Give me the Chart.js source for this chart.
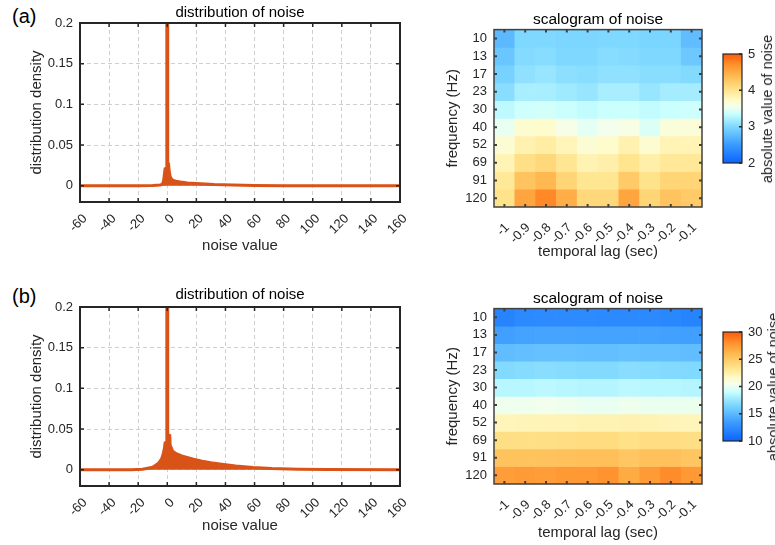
<!DOCTYPE html>
<html lang="en">
<head>
<meta charset="UTF-8">
<title>distribution and scalogram of noise</title>
<script src="https://cdn.jsdelivr.net/npm/chart.js@4"></script>
<style>
    body {
        margin: 0;
        background: #ffffff;
        width: 775px;
        height: 545px;
        position: relative;
        overflow: hidden;
        font-family: 'Liberation Sans', Arial, sans-serif;
    }
    canvas, .tag, .cblabel {
        position: absolute;
    }
    .tag {
        left: 12px;
        font-size: 20px;
        line-height: 20px;
        color: #000000;
    }
    .cblabel {
        font-size: 14.5px;
        color: #262626;
        white-space: nowrap;
        transform: translate(-50%, -50%) rotate(-90deg);
    }
</style>
</head>
<body>
<div class="tag" style="top:6px">(a)</div>
<div class="tag" style="top:286px">(b)</div>

<canvas id="histA" width="415" height="270" style="left:0;top:0"></canvas>
<canvas id="heatA" width="295" height="270" style="left:420px;top:0"></canvas>
<canvas id="cbarA" width="60" height="140" style="left:715px;top:40px"></canvas>
<div class="cblabel" style="left:767px;top:109px">absolute value of noise</div>

<canvas id="histB" width="415" height="270" style="left:0;top:284px"></canvas>
<canvas id="heatB" width="295" height="270" style="left:420px;top:279px"></canvas>
<canvas id="cbarB" width="60" height="140" style="left:715px;top:318px"></canvas>
<div class="cblabel" style="left:773px;top:387px">absolute value of noise</div>

<script>
// ---- data ----
const noiseXA   = [-60, -20, -10, -5, -3.4, -2.5, -1.5, -0.3, -0.3, 0.3, 0.3, 0.9, 1.3, 2, 3, 4, 6, 9, 14, 20, 32, 45, 60, 80, 160];
const densityA  = [0, 0, 0.0003, 0.0008, 0.0015, 0.0065, 0.021, 0.022, 0.40, 0.40, 0.028, 0.027, 0.018, 0.011, 0.008, 0.0065, 0.0055, 0.0045, 0.0035, 0.0027, 0.0015, 0.0008, 0.0004, 0.0001, 0];

const noiseXB   = [-60, -25, -17, -10, -6, -4, -3, -2, -1.5, -0.3, -0.3, 0.3, 0.3, 1.7, 2, 3, 3.6, 5, 7, 10, 13, 18, 24, 30, 36, 47, 59, 72, 90, 110, 160];
const densityB  = [0, 0, 0.0005, 0.003, 0.008, 0.013, 0.018, 0.026, 0.033, 0.034, 0.40, 0.40, 0.043, 0.042, 0.03, 0.026, 0.023, 0.021, 0.019, 0.017, 0.0155, 0.013, 0.0105, 0.0085, 0.007, 0.0045, 0.0027, 0.0015, 0.0007, 0.0002, 0];

const densityTicks = [0, 0.05, 0.1, 0.15, 0.2];

const lagLabels  = ['-1', '-0.9', '-0.8', '-0.7', '-0.6', '-0.5', '-0.4', '-0.3', '-0.2', '-0.1'];
const freqLabels = ['10', '13', '17', '23', '30', '40', '52', '69', '91', '120'];

// scalogram (a), rows = frequency (10 Hz first), columns = lag
const scaloA = [
    [2.75, 3.00, 3.00, 2.98, 2.98, 3.00, 3.00, 2.97, 2.97, 2.78],
    [2.85, 3.03, 3.04, 3.00, 3.00, 3.04, 3.03, 3.00, 3.00, 2.87],
    [2.95, 3.08, 3.12, 3.06, 3.05, 3.08, 3.08, 3.05, 3.05, 3.02],
    [3.05, 3.20, 3.20, 3.16, 3.12, 3.20, 3.20, 3.12, 3.18, 3.18],
    [3.30, 3.38, 3.40, 3.36, 3.32, 3.36, 3.36, 3.32, 3.36, 3.38],
    [3.50, 3.70, 3.72, 3.58, 3.48, 3.55, 3.60, 3.44, 3.65, 3.66],
    [3.68, 3.85, 3.90, 3.80, 3.68, 3.72, 3.85, 3.70, 3.82, 3.82],
    [3.82, 4.05, 4.12, 3.98, 3.83, 3.87, 4.00, 3.88, 3.95, 3.95],
    [3.95, 4.30, 4.40, 4.15, 3.98, 3.98, 4.25, 4.02, 4.15, 4.15],
    [4.02, 4.55, 4.75, 4.48, 4.12, 4.12, 4.55, 4.15, 4.30, 4.25]
];

// scalogram (b)
const scaloB = [
    [12.0, 12.3, 12.4, 12.4, 12.4, 12.3, 12.3, 12.3, 12.2, 12.0],
    [13.6, 13.8, 13.9, 13.9, 13.8, 13.8, 13.8, 13.8, 13.7, 13.6],
    [15.2, 15.3, 15.4, 15.4, 15.3, 15.3, 15.4, 15.3, 15.3, 15.2],
    [16.8, 16.9, 17.0, 16.9, 16.8, 16.8, 17.0, 16.9, 16.8, 16.7],
    [18.5, 18.5, 18.6, 18.5, 18.4, 18.4, 18.6, 18.5, 18.5, 18.4],
    [20.2, 20.2, 20.3, 20.2, 20.0, 20.0, 20.2, 20.1, 20.1, 20.1],
    [22.0, 22.1, 22.1, 22.1, 22.2, 22.2, 22.3, 22.2, 22.1, 22.0],
    [23.7, 23.7, 23.7, 23.8, 23.9, 23.9, 23.6, 23.8, 23.8, 23.7],
    [25.4, 25.4, 25.4, 25.5, 25.6, 25.6, 25.2, 25.5, 25.5, 25.3],
    [27.4, 27.5, 27.4, 27.6, 27.6, 27.9, 26.7, 27.5, 28.2, 27.6]
];

const rangeA = [2, 5];
const rangeB = [10, 30];

// blue -> white -> orange colormap
const cmapStops = [
    [0.00, [10, 100, 255]],
    [0.17, [60, 155, 255]],
    [0.33, [125, 215, 255]],
    [0.45, [200, 255, 255]],
    [0.52, [245, 255, 235]],
    [0.58, [255, 250, 200]],
    [0.67, [255, 228, 140]],
    [0.80, [255, 185, 80]],
    [0.90, [255, 145, 45]],
    [1.00, [255, 90, 10]]
];

const orange = '#d95319';

function cmap(t) {
    t = Math.max(0, Math.min(1, t));
    for (let i = 1; i < cmapStops.length; i++) {
        const [t1, c1] = cmapStops[i];
        if (t <= t1) {
            const [t0, c0] = cmapStops[i - 1];
            const f = (t - t0) / (t1 - t0);
            const c = c0.map((v, k) => Math.round(v + (c1[k] - v) * f));
            return 'rgb(' + c.join(',') + ')';
        }
    }
    return 'rgb(' + cmapStops[cmapStops.length - 1][1].join(',') + ')';
}

Chart.defaults.font.family = "'Liberation Sans', Arial, sans-serif";
Chart.defaults.font.size = 13;
Chart.defaults.color = '#262626';
Chart.defaults.animation = false;
Chart.defaults.responsive = false;
Chart.defaults.plugins.legend.display = false;
Chart.defaults.plugins.tooltip.enabled = false;

// box round the plot area with small inward ticks (matlab look)
const framePlugin = {
    id: 'frame',
    afterDatasetsDraw(chart, args, opts) {
        const ctx = chart.ctx;
        const a = chart.chartArea;
        const len = opts.tick || 4;
        ctx.save();
        ctx.strokeStyle = opts.color;
        ctx.lineWidth = opts.width;
        ctx.strokeRect(a.left, a.top, a.right - a.left, a.bottom - a.top);
        ctx.lineWidth = opts.tickWidth || 1.5;
        ctx.beginPath();
        const xs = chart.scales.x;
        const ys = chart.scales.y;
        if (opts.xTicks) {
            xs.ticks.forEach((t, i) => {
                const px = xs.getPixelForTick(i);
                ctx.moveTo(px, a.bottom); ctx.lineTo(px, a.bottom - len);
                ctx.moveTo(px, a.top); ctx.lineTo(px, a.top + len);
            });
        }
        ys.ticks.forEach((t, i) => {
            const py = ys.getPixelForTick(i);
            if (opts.left) { ctx.moveTo(a.left, py); ctx.lineTo(a.left + len, py); }
            ctx.moveTo(a.right, py); ctx.lineTo(a.right - len, py);
        });
        ctx.stroke();
        ctx.restore();
    }
};

function histConfig(xs, ys, p) {
    return {
        type: 'line',
        data: {
            datasets: [{
                data: xs.map((x, i) => ({x: x, y: ys[i]})),
                borderColor: orange,
                backgroundColor: orange,
                borderWidth: 3,
                pointRadius: 0,
                fill: 'origin'
            }]
        },
        options: {
            layout: {padding: {left: 0, right: 15, top: 0, bottom: 0}},
            plugins: {
                title: {display: true, fullSize: false, text: 'distribution of noise', color: '#000', font: {size: 15, weight: 'normal'}, padding: {top: p.titleTop, bottom: 5 - p.titleTop}},
                frame: {color: '#262626', width: 2, tick: 4, xTicks: true, left: true}
            },
            scales: {
                x: {
                    type: 'linear', min: -60, max: 160,
                    ticks: {stepSize: 20, minRotation: 45, maxRotation: 45, padding: 9, labelOffset: 5, autoSkip: false},
                    grid: {color: '#cfcfcf', drawTicks: false},
                    border: {display: false, dash: [4, 3]},
                    title: {display: true, text: 'noise value', font: {size: 15}, padding: {top: 0, bottom: p.xTitleBottom}},
                    afterFit(s) { s.height = 68; s.paddingLeft = 0; s.paddingRight = 0; }
                },
                y: {
                    min: -0.02, max: 0.2,
                    afterBuildTicks(s) { s.ticks = densityTicks.map(v => ({value: v})); },
                    ticks: {padding: 7, callback: v => String(+v.toFixed(3))},
                    grid: {color: '#cfcfcf', drawTicks: false},
                    border: {display: false, dash: [4, 3]},
                    title: {display: true, text: 'distribution density', font: {size: 15}, padding: {top: 27.5, bottom: 0}},
                    afterFit(s) { s.width = 80; s.paddingTop = 0; s.paddingBottom = 0; }
                }
            }
        },
        plugins: [framePlugin]
    };
}

function heatConfig(values, range, p) {
    return {
        type: 'bar',
        data: {
            labels: lagLabels,
            datasets: freqLabels.map((f, r) => ({
                label: f,
                data: lagLabels.map(() => 1),
                backgroundColor: values[r].map(v => cmap((v - range[0]) / (range[1] - range[0]))),
                borderWidth: 0,
                barPercentage: 1,
                categoryPercentage: 1
            }))
        },
        options: {
            layout: {padding: {right: 13}},
            plugins: {
                title: {display: true, fullSize: false, text: 'scalogram of noise', color: '#000', font: {size: 15.5, weight: 'normal'}, padding: {top: 10, bottom: 1}},
                frame: {color: '#404040', width: 1.5, tick: 3, tickWidth: 2, xTicks: true, left: true}
            },
            scales: {
                x: {
                    stacked: true,
                    grid: {display: false, drawTicks: false},
                    border: {display: false},
                    ticks: {minRotation: 45, maxRotation: 45, padding: 13, labelOffset: 3, autoSkip: false},
                    title: {display: true, text: 'temporal lag (sec)', font: {size: 15}, padding: {top: 0, bottom: p.xTitleBottom}},
                    afterFit(s) { s.height = p.xAxisH; s.paddingLeft = 0; s.paddingRight = 0; }
                },
                y: {
                    stacked: true, reverse: true, min: 0, max: 10,
                    afterBuildTicks(s) { s.ticks = freqLabels.map((f, i) => ({value: i + 0.5})); },
                    ticks: {padding: 7, callback: v => freqLabels[Math.floor(v)]},
                    grid: {display: false, drawTicks: false},
                    border: {display: false},
                    title: {display: true, text: 'frequency (Hz)', font: {size: 15}, padding: {top: 23.5, bottom: 0}},
                    afterFit(s) { s.width = 74; s.paddingTop = 0; s.paddingBottom = 0; }
                }
            }
        },
        plugins: [framePlugin]
    };
}

function cbarConfig(range, step) {
    return {
        type: 'bar',
        data: {
            labels: [''],
            datasets: [{
                data: [range],
                backgroundColor(c) {
                    const ys = c.chart.scales.y;
                    if (!ys || !c.chart.chartArea) return 'transparent';
                    const y0 = ys.getPixelForValue(range[0]);
                    const y1 = ys.getPixelForValue(range[1]);
                    if (!isFinite(y0) || !isFinite(y1)) return 'transparent';
                    const g = c.chart.ctx.createLinearGradient(0, y0, 0, y1);
                    cmapStops.forEach(([t, col]) => g.addColorStop(t, 'rgb(' + col.join(',') + ')'));
                    return g;
                },
                borderWidth: 0,
                barPercentage: 1,
                categoryPercentage: 1
            }]
        },
        options: {
            layout: {padding: {left: 8, top: 14, bottom: 17, right: 0}},
            plugins: {
                title: {display: false},
                frame: {color: '#262626', width: 1.2, tick: 3, xTicks: false, left: false}
            },
            scales: {
                x: {display: false},
                y: {
                    position: 'right', min: range[0], max: range[1],
                    ticks: {stepSize: step, padding: 6},
                    grid: {display: false, drawTicks: false},
                    border: {display: false},
                    afterFit(s) { s.width = 33; s.paddingTop = 0; s.paddingBottom = 0; }
                }
            }
        },
        plugins: [framePlugin]
    };
}

new Chart(document.getElementById('histA'), histConfig(noiseXA, densityA, {titleTop: 4, xTitleBottom: 15}));
new Chart(document.getElementById('histB'), histConfig(noiseXB, densityB, {titleTop: 2, xTitleBottom: 19}));
new Chart(document.getElementById('heatA'), heatConfig(scaloA, rangeA, {xAxisH: 63, xTitleBottom: 9}));
new Chart(document.getElementById('heatB'), heatConfig(scaloB, rangeB, {xAxisH: 65, xTitleBottom: 7}));
new Chart(document.getElementById('cbarA'), cbarConfig(rangeA, 1));
new Chart(document.getElementById('cbarB'), cbarConfig(rangeB, 5));
</script>
</body>
</html>
